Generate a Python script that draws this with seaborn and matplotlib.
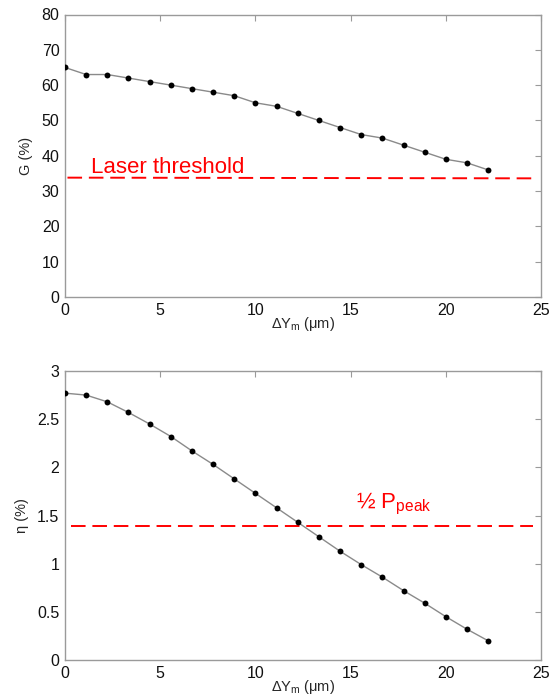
import matplotlib
matplotlib.use("Agg")
import matplotlib.pyplot as plt
import seaborn as sns
import pandas as pd

# Data
dY = [0.0, 1.11, 2.22, 3.33, 4.44, 5.56, 6.67, 7.78, 8.89, 10.0, 11.11,
      12.22, 13.33, 14.44, 15.56, 16.67, 17.78, 18.89, 20.0, 21.11, 22.22]
gain = [65, 63, 63, 62, 61, 60, 59, 58, 57, 55, 54, 52, 50, 48, 46, 45,
        43, 41, 39, 38, 36]
eta = [2.77, 2.75, 2.68, 2.57, 2.45, 2.32, 2.17, 2.03, 1.88, 1.73, 1.58,
       1.43, 1.28, 1.13, 0.99, 0.86, 0.72, 0.59, 0.45, 0.32, 0.20]
laser_threshold = 33.8
half_peak = 1.39
x_ticks = [0, 5, 10, 15, 20, 25]
g_ticks = [0, 10, 20, 30, 40, 50, 60, 70, 80]
eta_ticks = [0, 0.5, 1, 1.5, 2, 2.5, 3]
eta_ticklabels = ["0", "0.5", "1", "1.5", "2", "2.5", "3"]

sns.set_style("white")
plt.rcParams['font.family'] = ['Liberation Sans', 'DejaVu Sans']
plt.rcParams['mathtext.default'] = 'regular'

df = pd.DataFrame({"dY": dY, "G": gain, "eta": eta})

fig = plt.figure(figsize=(5.6, 6.96), dpi=100)
ax1 = fig.add_axes([65/560, 1-297/696, 476/560, 282.5/696])
ax2 = fig.add_axes([65/560, 1-660/696, 476/560, 289/696])

spine_col = "#9a9a9a"
for ax, col, yt, ytl, ylim, ylab in [
        (ax1, "G", g_ticks, [str(t) for t in g_ticks], (0, 80), "G (%)"),
        (ax2, "eta", eta_ticks, eta_ticklabels, (0, 3), "η (%)")]:
    sns.lineplot(data=df, x="dY", y=col, ax=ax, color="#8a8a8a", lw=1.0)
    sns.scatterplot(data=df, x="dY", y=col, ax=ax, color="black", s=18,
                    edgecolor="black", linewidth=0, zorder=3)
    ax.set_xlim(0, 25)
    ax.set_ylim(*ylim)
    ax.set_xticks(x_ticks)
    ax.set_xticklabels([str(t) for t in x_ticks])
    ax.set_yticks(yt)
    ax.set_yticklabels(ytl)
    ax.tick_params(direction="in", length=4, width=0.8, color=spine_col,
                   top=True, right=True, labelsize=11.5, labelcolor="#111111",
                   pad=4)
    for s in ax.spines.values():
        s.set_color(spine_col)
        s.set_linewidth(1.0)
    ax.set_xlabel("ΔY$_{m}$ (μm)", fontsize=10.5, labelpad=-2)
    ax.set_ylabel(ylab, fontsize=10.5, labelpad=6)

ax1.plot([0.13, 24.6], [laser_threshold, laser_threshold - 0.2], color="red",
         lw=1.4, dashes=(7.5, 3.5))
ax1.text(1.35, 35.2, "Laser threshold", color="red", fontsize=16)

ax2.plot([0.3, 24.6], [half_peak, half_peak], color="red",
         lw=1.4, dashes=(7.5, 3.5))
ax2.text(15.3, 1.57, "½ P$_{peak}$", color="red", fontsize=16)

fig.savefig("out.png", dpi=100)
